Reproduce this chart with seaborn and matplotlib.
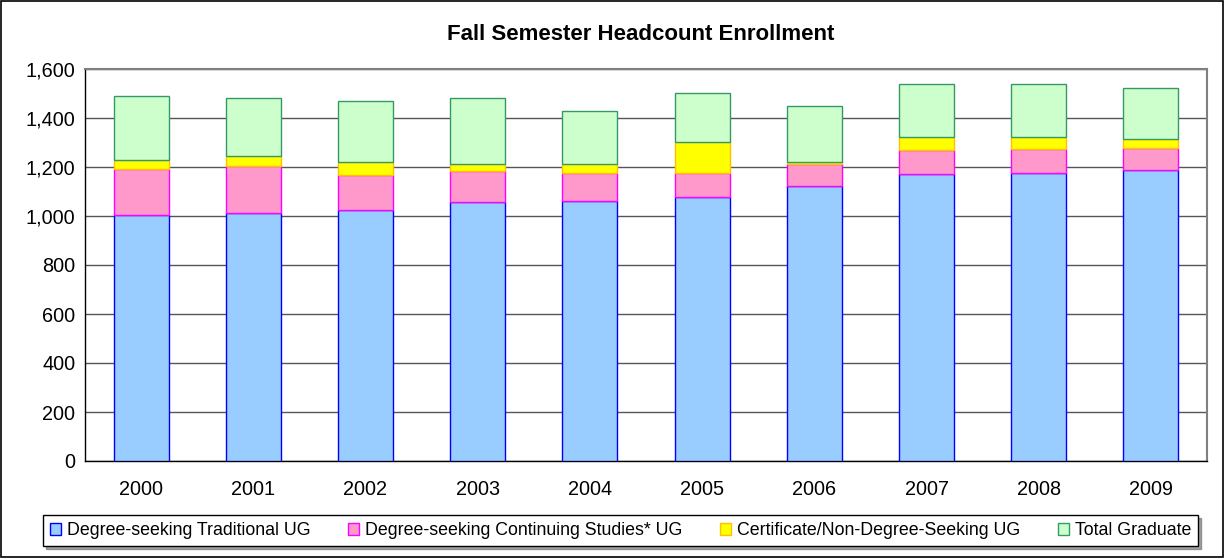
import numpy as np
import pandas as pd
import matplotlib
matplotlib.use("Agg")
import matplotlib.pyplot as plt
from matplotlib.patches import Rectangle, Patch
import seaborn as sns

years = ["2000", "2001", "2002", "2003", "2004", "2005", "2006", "2007", "2008", "2009"]
traditional_ug = [1003, 1012, 1026, 1057, 1062, 1076, 1121, 1171, 1175, 1188]
continuing_ug = [187, 194, 142, 125, 112, 98, 91, 99, 98, 91]
certificate_ug = [38, 39, 54, 30, 38, 129, 10, 51, 48, 34]
graduate = [260, 238, 248, 268, 218, 197, 228, 219, 216, 209]
series_names = ["Degree-seeking Traditional UG", "Degree-seeking Continuing Studies* UG",
                "Certificate/Non-Degree-Seeking UG", "Total Graduate"]
title = "Fall Semester Headcount Enrollment"

fills = ["#99CCFF", "#FF99CC", "#FFFF00", "#CCFFCC"]
edges = ["#0000FF", "#FF00FF", "#FFC000", "#339966"]

sns.set_theme(style="white")
plt.rcParams['font.family'] = ['Liberation Sans', 'DejaVu Sans']
plt.rcParams['text.color'] = 'black'
plt.rcParams['xtick.color'] = 'black'
plt.rcParams['ytick.color'] = 'black'
plt.rcParams['axes.labelcolor'] = 'black'

df = pd.DataFrame({"year": years, "trad": traditional_ug, "cont": continuing_ug,
                   "cert": certificate_ug, "grad": graduate})

fig = plt.figure(figsize=(12.25, 5.58), dpi=100)
ax = fig.add_axes([85/1225, 1 - 461/558, (1207-85)/1225, (461-69)/558])

bottom = np.zeros(len(years))
for col, name, fc, ec in zip(["trad", "cont", "cert", "grad"], series_names, fills, edges):
    sns.barplot(data=df, x="year", y=col, ax=ax, color=fc, bottom=bottom,
                width=0.49, edgecolor=ec, linewidth=1.0, saturation=1, zorder=3)
    bottom = bottom + df[col].values

ax.set_ylim(0, 1600)
ax.set_xlim(-0.5, len(years) - 0.5)
ax.set_yticks(np.arange(0, 1601, 200))
ax.set_yticklabels([f"{v:,}" for v in range(0, 1601, 200)], fontsize=14.3, color="black")
ax.set_xticks(range(len(years)))
ax.set_xticklabels(years, fontsize=14.3, color="black")
ax.set_xlabel("")
ax.set_ylabel("")
ax.set_xticks(np.arange(-0.5, len(years), 1), minor=True)
ax.tick_params(axis="x", which="major", length=0, pad=14)
ax.tick_params(axis="x", which="minor", length=4.5, width=1, color="black", direction="out")
ax.tick_params(axis="y", which="major", length=5, width=1, color="black", direction="out", pad=2)
ax.yaxis.grid(True, color="#555555", linewidth=1.0, zorder=0)
ax.set_axisbelow(True)
for s in ["left", "bottom"]:
    ax.spines[s].set_color("black")
    ax.spines[s].set_linewidth(1.0)
for s in ["top", "right"]:
    ax.spines[s].set_color("#808080")
    ax.spines[s].set_linewidth(1.5)

fig.text(641/1225, 1 - 34/558, title, ha="center", va="center", fontsize=16,
         fontweight="bold", color="black")

handles = [Patch(facecolor=fc, edgecolor=ec, linewidth=1) for fc, ec in zip(fills, edges)]
leg = fig.legend(handles, series_names, loc="center", bbox_to_anchor=(620.5/1225, 1 - 530.5/558),
                 ncol=4, frameon=True, fontsize=12.8, handlelength=0.62, handleheight=0.62,
                 handletextpad=0.34, columnspacing=2.1, borderpad=0.4, fancybox=False,
                 shadow=True, edgecolor="black", labelcolor="black")
leg.get_frame().set_linewidth(1.0)

fig.patches.append(Rectangle((0.0005, 0.001), 0.998, 0.997, transform=fig.transFigure,
                             fill=False, edgecolor="black", linewidth=1.2))

fig.savefig("out.png", dpi=100)
